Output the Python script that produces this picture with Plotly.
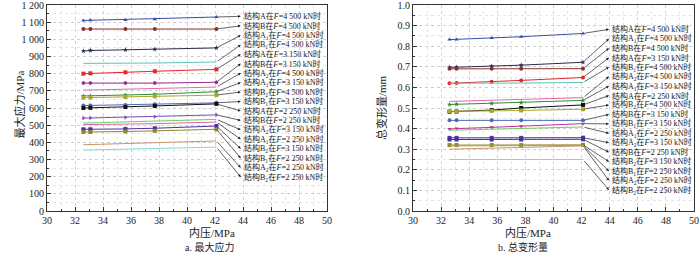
import plotly.graph_objects as go

# ---------------- data ----------------
pressure = [32.6, 33.1, 35.6, 37.7, 42.1]

# panel a: maximum stress (MPa), in legend order
stress_labels = [
    "A|4 500", "B|4 500", "A1|4 500", "B1|4 500", "A|3 150", "B|3 150",
    "A2|4 500", "A1|3 150", "B2|4 500", "B1|3 150", "A|2 250", "B|2 250",
    "A2|3 150", "A1|2 250", "B2|3 150", "B1|2 250", "A2|2 250", "B2|2 250",
]
stress_A_4500 = [1110, 1111, 1113, 1117, 1130]
stress_B_4500 = [1060, 1060, 1060, 1060, 1060]
stress_A1_4500 = [932, 935, 939, 942, 950]
stress_B1_4500 = [860, 860, 861, 862, 868]
stress_A_3150 = [800, 802, 808, 814, 825]
stress_B_3150 = [745, 745, 745, 745, 750]
stress_A2_4500 = [704, 705, 709, 713, 722]
stress_A1_3150 = [670, 671, 675, 680, 695]
stress_B2_4500 = [660, 661, 664, 668, 675]
stress_B1_3150 = [614, 615, 618, 622, 630]
stress_A_2250 = [600, 601, 606, 612, 624]
stress_B_2250 = [541, 542, 545, 549, 560]
stress_A2_3150 = [512, 513, 518, 522, 534]
stress_A1_2250 = [503, 503, 506, 509, 518]
stress_B2_3150 = [476, 476, 478, 482, 495]
stress_B1_2250 = [460, 460, 463, 467, 476]
stress_A2_2250 = [386, 387, 392, 396, 408]
stress_B2_2250 = [355, 356, 360, 363, 372]
stress_series = [
    stress_A_4500, stress_B_4500, stress_A1_4500, stress_B1_4500, stress_A_3150,
    stress_B_3150, stress_A2_4500, stress_A1_3150, stress_B2_4500, stress_B1_3150,
    stress_A_2250, stress_B_2250, stress_A2_3150, stress_A1_2250, stress_B2_3150,
    stress_B1_2250, stress_A2_2250, stress_B2_2250,
]

# panel b: total deformation (mm), in legend order
deform_labels = [
    "A|4 500", "A1|4 500", "B|4 500", "A|3 150", "B1|4 500", "A2|4 500",
    "A1|3 150", "A|2 250", "B2|4 500", "B|3 150", "B1|3 150", "A1|2 250",
    "A2|3 150", "B|2 250", "B2|3 150", "B1|2 250", "A2|2 250", "B2|2 250",
]
deform_A_4500 = [0.832, 0.833, 0.840, 0.846, 0.862]
deform_A1_4500 = [0.697, 0.698, 0.703, 0.708, 0.722]
deform_B_4500 = [0.690, 0.690, 0.690, 0.690, 0.691]
deform_A_3150 = [0.620, 0.621, 0.628, 0.634, 0.648]
deform_B1_4500 = [0.620, 0.620, 0.620, 0.621, 0.624]
deform_A2_4500 = [0.532, 0.533, 0.537, 0.540, 0.550]
deform_A1_3150 = [0.517, 0.518, 0.522, 0.526, 0.537]
deform_A_2250 = [0.482, 0.483, 0.490, 0.500, 0.515]
deform_B2_4500 = [0.484, 0.484, 0.486, 0.488, 0.494]
deform_B_3150 = [0.440, 0.440, 0.440, 0.440, 0.440]
deform_B1_3150 = [0.398, 0.400, 0.406, 0.412, 0.424]
deform_A1_2250 = [0.392, 0.393, 0.397, 0.400, 0.408]
deform_A2_3150 = [0.355, 0.355, 0.355, 0.355, 0.356]
deform_B_2250 = [0.347, 0.347, 0.347, 0.347, 0.348]
deform_B2_3150 = [0.320, 0.320, 0.320, 0.320, 0.321]
deform_B1_2250 = [0.316, 0.316, 0.316, 0.317, 0.318]
deform_A2_2250 = [0.300, 0.301, 0.305, 0.309, 0.316]
deform_B2_2250 = [0.250, 0.250, 0.250, 0.250, 0.250]
deform_series = [
    deform_A_4500, deform_A1_4500, deform_B_4500, deform_A_3150, deform_B1_4500,
    deform_A2_4500, deform_A1_3150, deform_A_2250, deform_B2_4500, deform_B_3150,
    deform_B1_3150, deform_A1_2250, deform_A2_3150, deform_B_2250, deform_B2_3150,
    deform_B1_2250, deform_A2_2250, deform_B2_2250,
]

stress_ticks = [0, 100, 200, 300, 400, 500, 600, 700, 800, 900, 1000, 1100, 1200]
stress_ticktext = ["0", "100", "200", "300", "400", "500", "600", "700", "800",
                   "900", "1 000", "1 100", "1 200"]
deform_ticks = [0.0, 0.1, 0.2, 0.3, 0.4, 0.5, 0.6, 0.7, 0.8, 0.9, 1.0]

# ---------------- styles ----------------
stress_styles = [
    ("#3a4fa8", "triangle-up"), ("#8b2f2f", "circle"), ("#2a2a48", "star"),
    ("#5fc4b5", None), ("#e8262a", "square"), ("#9b2a8e", "hexagon"),
    ("#e06aa8", None), ("#2f8f2f", "star"), ("#a8a830", "square"),
    ("#4a6ab8", "circle"), ("#111111", "square"), ("#7a4cc0", "triangle-right"),
    ("#6ccf5c", None), ("#d66aa8", None), ("#4a2ea0", "square"),
    ("#8a8a2a", "square"), ("#c8946a", None), ("#7fd6d6", None),
]
deform_styles = [
    ("#3a4fa8", "triangle-up"), ("#2a2a48", "star"), ("#8b2f2f", "circle"),
    ("#e8262a", "circle"), ("#5fc4b5", None), ("#e06aa8", None),
    ("#2f8f2f", "star"), ("#111111", "square"), ("#a8a830", "square"),
    ("#4a6ab8", "circle"), ("#c0309a", "triangle-down"), ("#6ccf5c", None),
    ("#5a2ea8", "square"), ("#4a2ea0", "square"), ("#8a8a2a", "square"),
    ("#b09a60", None), ("#c8946a", None), ("#7fd6d6", None),
]

FONT = "Liberation Serif, Noto Sans CJK SC, serif"


def fmt_label(code):
    s, f = code.split("|")
    if len(s) > 1:
        s = s[0] + "<sub>" + s[1] + "</sub>"
    return "结构" + s + "在<i>F</i>=" + f + " kN时"


fig = go.Figure()
annotations = []


def add_panel(series, labels, styles, xa, ya, label_top, label_step, head_x, text_x):
    for i, (vals, lab, (col, sym)) in enumerate(zip(series, labels, styles)):
        mode = "lines+markers" if sym else "lines"
        fig.add_trace(go.Scatter(
            x=pressure, y=vals, mode=mode, xaxis=xa, yaxis=ya,
            line=dict(color=col, width=1),
            marker=dict(symbol=sym or "circle", size=4, color=col),
            showlegend=False, hoverinfo="skip",
        ))
        ly = label_top - label_step * i
        annotations.append(dict(
            x=head_x, y=ly, ax=pressure[-1], ay=vals[-1],
            xref=xa, yref=ya, axref=xa, ayref=ya,
            text="", showarrow=True, arrowhead=2, arrowsize=0.8,
            arrowwidth=0.7, arrowcolor="#222222", standoff=0, startstandoff=0,
        ))
        annotations.append(dict(
            x=text_x, y=ly, xref=xa, yref=ya, text=fmt_label(lab),
            showarrow=False, xanchor="left", yanchor="middle",
            font=dict(size=8, family=FONT, color="#222222"),
        ))


add_panel(stress_series, stress_labels, stress_styles, "x", "y",
          1134, 55.1, 43.84, 43.95)
add_panel(deform_series, deform_labels, deform_styles, "x2", "y2",
          0.882, 0.0459, 43.95, 44.05)

axis_common = dict(
    showline=True, linecolor="#333333", linewidth=1, mirror=True,
    ticks="inside", ticklen=4, tickcolor="#333333", automargin=False,
    ticklabeloverflow="allow",
    showgrid=True, gridcolor="#c8c8c8", griddash="dot", gridwidth=0.8,
    zeroline=False, tickfont=dict(size=10, family=FONT, color="#222222"),
)
minor_x = dict(dtick=1, ticks="inside", ticklen=2, tickcolor="#333333",
               showgrid=True, gridcolor="#dcdcdc", griddash="dot", gridwidth=0.7)

fig.update_layout(
    width=700, height=263,
    margin=dict(l=0, r=0, t=5, b=52, autoexpand=False),
    paper_bgcolor="white", plot_bgcolor="white",
    font=dict(family=FONT, size=10, color="#222222"),
    xaxis=dict(domain=[47 / 700, 327 / 700], range=[30, 50], dtick=2,
               minor=minor_x, anchor="y", **axis_common),
    yaxis=dict(domain=[0, 1], range=[0, 1200], tickvals=stress_ticks,
               ticktext=stress_ticktext, anchor="x",
               minor=dict(dtick=50, ticks="inside", ticklen=2, tickcolor="#333333",
                          showgrid=True, gridcolor="#dcdcdc", griddash="dot", gridwidth=0.7),
               **axis_common),
    xaxis2=dict(domain=[413 / 700, 694 / 700], range=[30, 50], dtick=2,
                minor=minor_x, anchor="y2", **axis_common),
    yaxis2=dict(domain=[0, 1], range=[0, 1.0], tickvals=deform_ticks,
                tickformat=".1f", anchor="x2",
                minor=dict(dtick=0.05, ticks="inside", ticklen=2, tickcolor="#333333",
                           showgrid=True, gridcolor="#dcdcdc", griddash="dot", gridwidth=0.7),
                **axis_common),
)


def py(pix):
    # pixel row -> paper y
    return (211 - pix) / 206


annotations += [
    dict(x=10 / 700, y=py(105), xref="paper", yref="paper", text="最大应力/MPa",
         textangle=-90, showarrow=False, font=dict(size=11, family=FONT)),
    dict(x=381 / 700, y=py(108), xref="paper", yref="paper", text="总变形量/mm",
         textangle=-90, showarrow=False, font=dict(size=11, family=FONT)),
    dict(x=187 / 700, y=py(241), xref="paper", yref="paper", text="内压/MPa",
         showarrow=False, font=dict(size=11, family=FONT)),
    dict(x=553 / 700, y=py(241), xref="paper", yref="paper", text="内压/MPa",
         showarrow=False, font=dict(size=11, family=FONT)),
    dict(x=183 / 700, y=py(255), xref="paper", yref="paper", text="a. 最大应力",
         showarrow=False, font=dict(size=10, family=FONT)),
    dict(x=550 / 700, y=py(255), xref="paper", yref="paper", text="b. 总变形量",
         showarrow=False, font=dict(size=10, family=FONT)),
]
fig.update_layout(annotations=annotations)

fig.write_html(
    "out.html",
    config={"displayModeBar": False, "staticPlot": True},
    post_script="document.body.style.margin='0';document.body.style.overflow='hidden';",
)
